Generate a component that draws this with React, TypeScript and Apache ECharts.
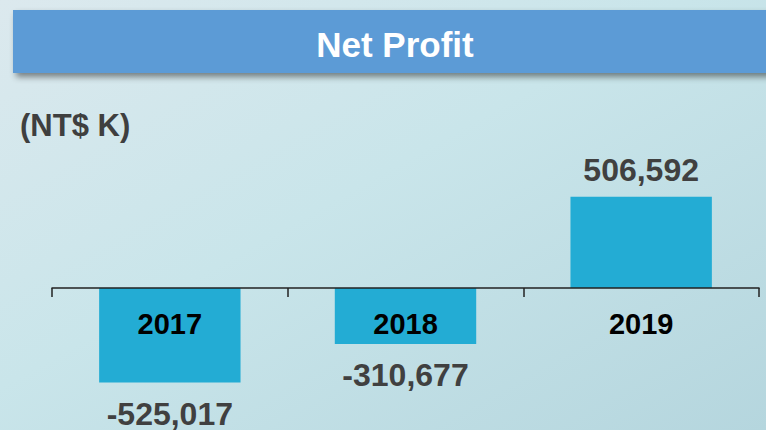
import React, { useEffect, useRef } from "react";
import * as echarts from "echarts";

const years = ["2017", "2018", "2019"];
const netProfit = [-525017, -310677, 506592];
const titleText = "Net Profit";
const unitText = "(NT$ K)";

export default function App() {
  const ref = useRef<HTMLDivElement>(null);
  useEffect(() => {
    if (!ref.current) return;
    const chart = echarts.init(ref.current, null, { renderer: "svg" });
    const font = "'Liberation Sans', Arial, sans-serif";
    chart.setOption({
      animation: false,
      backgroundColor: {
        type: "linear",
        x: 0, y: 0, x2: 1, y2: 1,
        colorStops: [
          { offset: 0, color: "#dce9ee" },
          { offset: 0.45, color: "#c9e5ea" },
          { offset: 1, color: "#b5d6de" },
        ],
      },
      graphic: [
        {
          type: "rect",
          shape: { x: 13, y: 10, width: 770, height: 63 },
          style: {
            fill: "#5b9bd6",
            shadowBlur: 6,
            shadowOffsetX: 3,
            shadowOffsetY: 4,
            shadowColor: "rgba(0,0,0,0.45)",
          },
          z: 10,
        },
        {
          type: "text",
          x: 395,
          y: 44,
          style: {
            text: titleText,
            fill: "#ffffff",
            font: `bold 35px ${font}`,
            textAlign: "center",
            textVerticalAlign: "middle",
          },
          z: 11,
        },
        {
          type: "text",
          x: 20,
          y: 125,
          style: {
            text: unitText,
            fill: "#3f3f3f",
            font: `bold 31px ${font}`,
            textAlign: "left",
            textVerticalAlign: "middle",
          },
          z: 11,
        },
      ],
      grid: { left: 52, right: 7, top: 180, bottom: 142, outerBoundsMode: "none" },
      xAxis: {
        type: "category",
        data: years,
        position: "bottom",
        z: 10,
        axisLine: { lineStyle: { color: "#222", width: 1.5 } },
        axisTick: { show: true, length: 9, lineStyle: { color: "#222", width: 1.5 } },
        axisLabel: {
          margin: 21,
          color: "#000",
          fontWeight: "bold",
          fontSize: 29,
          fontFamily: font,
        },
      },
      yAxis: {
        type: "value",
        min: 0,
        max: 600000,
        show: false,
        splitLine: { show: false },
      },
      series: [
        {
          type: "bar",
          clip: false,
          barWidth: "60%",
          data: netProfit.map((v) => ({
            value: v,
            label: { position: v < 0 ? "bottom" : "top", distance: v < 0 ? 15 : 11 },
          })),
          itemStyle: { color: "#23acd4" },
          label: {
            show: true,
            color: "#404040",
            fontWeight: "bold",
            fontSize: 32,
            fontFamily: font,
            formatter: (p: any) => Number(p.value).toLocaleString("en-US"),
          },
        },
      ],
    });
    return () => chart.dispose();
  }, []);
  return (
    <div
      ref={ref}
      style={{ position: "fixed", left: 0, top: 0, width: 766, height: 430 }}
    />
  );
}
